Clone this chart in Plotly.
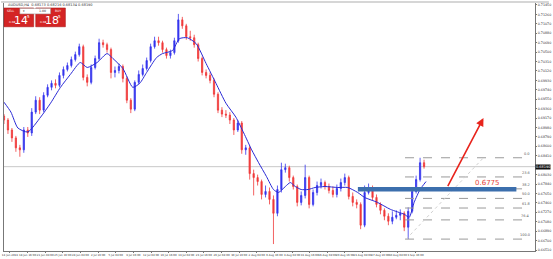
import plotly.graph_objects as go

# ---------------- data (AUDUSD H4) ----------------
first_open = 0.6921
close = [0.6913, 0.6893, 0.6877, 0.6857, 0.6853, 0.6893, 0.6887, 0.6929, 0.6953, 0.6933,
         0.6963, 0.6979, 0.6987, 0.6983, 0.7003, 0.7015, 0.7023, 0.7035, 0.7045, 0.7061,
         0.6999, 0.6989, 0.7019, 0.7037, 0.7069, 0.7065, 0.7055, 0.7009, 0.7013, 0.7021,
         0.6997, 0.6953, 0.6935, 0.6989, 0.7005, 0.7017, 0.7033, 0.7061, 0.7073, 0.7069,
         0.7055, 0.7043, 0.7049, 0.7073, 0.7115, 0.7103, 0.7081, 0.7079, 0.7065, 0.7037,
         0.7009, 0.7003, 0.6993, 0.6965, 0.6933, 0.6925, 0.6923, 0.6913, 0.6893, 0.6907,
         0.6853, 0.6857, 0.6805, 0.6797, 0.6789, 0.6763, 0.6769, 0.6753, 0.6725, 0.6773,
         0.6813, 0.6817, 0.6797, 0.6779, 0.6747, 0.6761, 0.6797, 0.6743, 0.6767, 0.6781,
         0.6787, 0.6779, 0.6771, 0.6763, 0.6775, 0.6787, 0.6797, 0.6759, 0.6747, 0.6743,
         0.6701, 0.6767, 0.6777, 0.6757, 0.6743, 0.6731, 0.6719, 0.6709, 0.6717, 0.6721,
         0.6725, 0.6697, 0.6729, 0.6769, 0.6793, 0.6827, 0.6819]
high = [0.6925, 0.6917, 0.6897, 0.6881, 0.6863, 0.6899, 0.6899, 0.6937, 0.6961, 0.6959,
        0.6969, 0.6985, 0.6993, 0.6995, 0.7009, 0.7021, 0.7029, 0.7041, 0.7051, 0.7067,
        0.7065, 0.7005, 0.7025, 0.7043, 0.7077, 0.7075, 0.7069, 0.7059, 0.7021, 0.7027,
        0.7025, 0.7001, 0.6957, 0.6993, 0.7013, 0.7025, 0.7039, 0.7067, 0.7081, 0.7081,
        0.7073, 0.7059, 0.7055, 0.7079, 0.7127, 0.7121, 0.7107, 0.7093, 0.7085, 0.7069,
        0.7041, 0.7015, 0.7009, 0.6997, 0.6969, 0.6939, 0.6933, 0.6929, 0.6917, 0.6913,
        0.6911, 0.6863, 0.6861, 0.6813, 0.6803, 0.6793, 0.6781, 0.6777, 0.6761, 0.6781,
        0.6827, 0.6825, 0.6821, 0.6801, 0.6783, 0.6769, 0.6823, 0.6801, 0.6773, 0.6789,
        0.6795, 0.6791, 0.6785, 0.6779, 0.6783, 0.6795, 0.6805, 0.6801, 0.6767, 0.6753,
        0.6747, 0.6781, 0.6785, 0.6781, 0.6763, 0.6747, 0.6735, 0.6725, 0.6729, 0.6731,
        0.6733, 0.6729, 0.6737, 0.6775, 0.6801, 0.6837, 0.6833]
low = [0.6905, 0.6885, 0.6869, 0.6849, 0.6839, 0.6847, 0.6879, 0.6881, 0.6925, 0.6925,
       0.6929, 0.6959, 0.6973, 0.6977, 0.6979, 0.6997, 0.7011, 0.7019, 0.7031, 0.7041,
       0.6993, 0.6981, 0.6985, 0.7015, 0.7033, 0.7059, 0.7049, 0.6997, 0.6999, 0.7007,
       0.6989, 0.6947, 0.6927, 0.6931, 0.6985, 0.7001, 0.7013, 0.7029, 0.7057, 0.7063,
       0.7049, 0.7037, 0.7037, 0.7045, 0.7069, 0.7097, 0.7075, 0.7073, 0.7059, 0.7031,
       0.7003, 0.6997, 0.6987, 0.6959, 0.6927, 0.6919, 0.6917, 0.6905, 0.6883, 0.6889,
       0.6845, 0.6843, 0.6793, 0.6761, 0.6781, 0.6753, 0.6757, 0.6743, 0.6663, 0.6719,
       0.6767, 0.6807, 0.6789, 0.6773, 0.6739, 0.6741, 0.6755, 0.6735, 0.6739, 0.6761,
       0.6775, 0.6773, 0.6765, 0.6757, 0.6757, 0.6769, 0.6781, 0.6753, 0.6739, 0.6735,
       0.6693, 0.6697, 0.6763, 0.6751, 0.6737, 0.6723, 0.6711, 0.6701, 0.6703, 0.6713,
       0.6711, 0.6689, 0.6673, 0.6725, 0.6765, 0.6789, 0.6815]

# moving average (bar index, value)
ma_x = [0, 1.75, 3.5, 6, 9.25, 11.75, 14.25, 16.75, 19.25, 21, 23.5, 26, 27.5, 30, 32.5,
        34.25, 36, 38.5, 40, 42.5, 44.25, 46.25, 48.5, 51, 53.5, 56, 58.5, 60.5, 62.5,
        64.25, 66.25, 68, 69.25, 71, 72.25, 73.5, 75, 76.75, 78.5, 81, 84.25, 86.75,
        89.25, 91, 94.25, 97.5, 101, 102.25, 103.5, 105, 106.5]
ma_y = [0.6949, 0.6929, 0.6897, 0.6889, 0.6919, 0.6947, 0.6979, 0.7005, 0.7029, 0.7019,
        0.7029, 0.7047, 0.7037, 0.7017, 0.6979, 0.6987, 0.7009, 0.7039, 0.7047, 0.7053,
        0.7077, 0.7079, 0.7067, 0.7027, 0.6987, 0.6947, 0.6919, 0.6887, 0.6853, 0.6827,
        0.6799, 0.6773, 0.6767, 0.6779, 0.6787, 0.6779, 0.6773, 0.6773, 0.6777, 0.6779,
        0.6777, 0.6777, 0.6767, 0.6757, 0.6747, 0.6733, 0.6723, 0.6717, 0.6747, 0.6773,
        0.6789]

x_labels = ["14 Jun 2019", "18 Jun 16:00", "21 Jun 04:00", "25 Jun 16:00", "28 Jun 04:00",
            "2 Jul 16:00", "5 Jul 04:00", "9 Jul 16:00", "12 Jul 04:00", "16 Jul 16:00",
            "19 Jul 04:00", "23 Jul 16:00", "26 Jul 04:00", "30 Jul 16:00", "2 Aug 04:00",
            "6 Aug 16:00", "9 Aug 04:00", "13 Aug 16:00", "16 Aug 04:00", "20 Aug 16:00",
            "23 Aug 04:00", "27 Aug 16:00", "30 Aug 04:00", "3 Sep 16:00"]
y_ticks = [0.6651, 0.6670, 0.6689, 0.6708, 0.6727, 0.6746, 0.6765, 0.6784, 0.6803,
           0.6841, 0.6860, 0.6879, 0.6898, 0.6917, 0.6936, 0.6955, 0.6974,
           0.6993, 0.7012, 0.7031, 0.7050, 0.7069, 0.7088, 0.7107, 0.7126, 0.7145]

fib_low, fib_high = 0.6673, 0.6837
fib_low_bar, fib_high_bar = 101.5, 121
fib_ratios = [0.0, 23.6, 38.2, 50.0, 61.8, 76.4, 100.0]
zone_price = 0.6775
zone_low, zone_high = 0.6769, 0.6778
bid = 0.6819
arrow_from = (111.8, 0.6777)
arrow_to = (121.0, 0.6917)

# ---------------- layout geometry ----------------
W, H = 553, 259
ML, MR, MT, MB = 3, 14, 2, 7
PW, PH = W - ML - MR, H - MT - MB

def px(x):
    return (x - ML) / PW

def py(y):
    return (H - MB - y) / PH

BLUE = "#3535ee"
RED = "#f03a3a"
GRAY = "#9a9a9a"

bars = list(range(len(close)))
opens = [first_open] + close[:-1]

fig = go.Figure()
fig.add_trace(go.Candlestick(
    x=bars, open=opens, high=high, low=low, close=close,
    increasing=dict(line=dict(color=BLUE, width=0.8), fillcolor=BLUE),
    decreasing=dict(line=dict(color=RED, width=0.8), fillcolor=RED),
    whiskerwidth=0, showlegend=False, hoverinfo="skip"))
fig.add_trace(go.Scatter(x=ma_x, y=ma_y, mode="lines",
                         line=dict(color="#2a2ad6", width=1, shape="spline", smoothing=0.6),
                         showlegend=False, hoverinfo="skip"))

shapes = []
annotations = []

# bid line
shapes.append(dict(type="line", xref="paper", yref="y", x0=0, x1=1, y0=bid, y1=bid,
                   line=dict(color="#c8c8c8", width=1), layer="below"))
# fib levels
fib_right = 132
for r in fib_ratios:
    lvl = fib_high - (fib_high - fib_low) * r / 100
    shapes.append(dict(type="line", xref="x", yref="y", x0=fib_low_bar - 0.3, x1=fib_right,
                       y0=lvl, y1=lvl, line=dict(color=GRAY, width=1, dash="dash")))
    annotations.append(dict(x=fib_right + 1.3, y=lvl, xref="x", yref="y", text=f"{r:.1f}",
                            showarrow=False, xanchor="right", yanchor="bottom",
                            font=dict(size=3.5, color="#555", family="DejaVu Sans")))
# fib diagonal
shapes.append(dict(type="line", xref="x", yref="y", x0=fib_low_bar, y0=fib_low,
                   x1=fib_high_bar, y1=fib_high, line=dict(color="#d0d0d0", width=1, dash="dot")))
# blue zone
shapes.append(dict(type="rect", xref="x", yref="y", x0=89.3, x1=129.3, y0=zone_low, y1=zone_high,
                   fillcolor="#3c6fad", line=dict(width=0)))
annotations.append(dict(x=122, y=zone_price + 0.0012, xref="x", yref="y", text=f"{zone_price:.4f}",
                        showarrow=False, xanchor="center", yanchor="middle",
                        font=dict(size=7, color="#e8433a", family="DejaVu Sans")))
# red arrow
annotations.append(dict(x=arrow_to[0], y=arrow_to[1], ax=arrow_from[0], ay=arrow_from[1],
                        xref="x", yref="y", axref="x", ayref="y", text="", showarrow=True,
                        arrowhead=2, arrowsize=1, arrowwidth=1.6, arrowcolor="#e8241c"))
# bid price box on the axis
annotations.append(dict(x=1, y=bid, xref="paper", yref="y", text=f"{bid:.5f}", showarrow=False,
                        xanchor="left", yanchor="middle", bgcolor="#111", borderpad=0,
                        font=dict(size=3.5, color="white", family="DejaVu Sans")))

# header bar + title
shapes.append(dict(type="rect", xref="paper", yref="paper", x0=px(0), x1=px(553), y0=py(0), y1=py(2),
                   fillcolor="#d6d6d6", line=dict(width=0)))
annotations.append(dict(x=px(5), y=py(4.5), xref="paper", yref="paper", xanchor="left", yanchor="middle",
                        text="AUDUSD,H4  0.68173 0.68216 0.68134 0.68190", showarrow=False,
                        font=dict(size=3.5, color="#333", family="DejaVu Sans")))
# one-click trading panel
shapes.append(dict(type="rect", xref="paper", yref="paper", x0=px(3), x1=px(33), y0=py(26), y1=py(7),
                   fillcolor="#d42424", line=dict(color="#a51515", width=0.5)))
shapes.append(dict(type="rect", xref="paper", yref="paper", x0=px(35), x1=px(65), y0=py(26), y1=py(7),
                   fillcolor="#d42424", line=dict(color="#a51515", width=0.5)))
shapes.append(dict(type="rect", xref="paper", yref="paper", x0=px(19), x1=px(50), y0=py(13), y1=py(7.5),
                   fillcolor="white", line=dict(color="#999", width=0.5)))

def label(txt, xx, yy, sz, col):
    annotations.append(dict(x=px(xx), y=py(yy), xref="paper", yref="paper", text=txt, showarrow=False,
                            xanchor="center", yanchor="middle",
                            font=dict(size=sz, color=col, family="DejaVu Sans")))

label("SELL", 10, 10, 3, "white")
label("BUY", 58, 10, 3, "white")
label("1.00", 42, 10.2, 3.2, "#333")
label("▾", 23, 10.2, 3, "#333")
for big, xx in [("14", 20), ("18", 51)]:
    label("0.68", xx - 9, 21.5, 2.8, "white")
    label(big, xx, 19.5, 11, "white")
    label("5", xx + 8, 15.5, 4, "white")

fig.update_layout(
    width=W, height=H, margin=dict(l=ML, r=MR, t=MT, b=MB, pad=0),
    paper_bgcolor="white", plot_bgcolor="white",
    boxgap=0.55, boxgroupgap=0.3,
    shapes=shapes, annotations=annotations,
    xaxis=dict(range=[0, 134], rangeslider=dict(visible=False), showgrid=False, zeroline=False,
               tickvals=[1.5 + 4.45 * k for k in range(len(x_labels))], ticktext=x_labels,
               ticks="outside", ticklen=1, tickcolor="#777", tickangle=0,
               tickfont=dict(size=2.7, color="#333", family="DejaVu Sans"),
               showline=True, linecolor="#777", linewidth=1, mirror=True),
    yaxis=dict(range=[0.6649, 0.7149], side="right", showgrid=False, zeroline=False,
               tickvals=y_ticks, ticktext=[f"{v:.5f}" for v in y_ticks],
               ticks="outside", ticklen=1, tickcolor="#777",
               tickfont=dict(size=3.3, color="#333", family="DejaVu Sans"),
               showline=True, linecolor="#777", linewidth=1, mirror=True),
)

fig.write_html("out.html")
